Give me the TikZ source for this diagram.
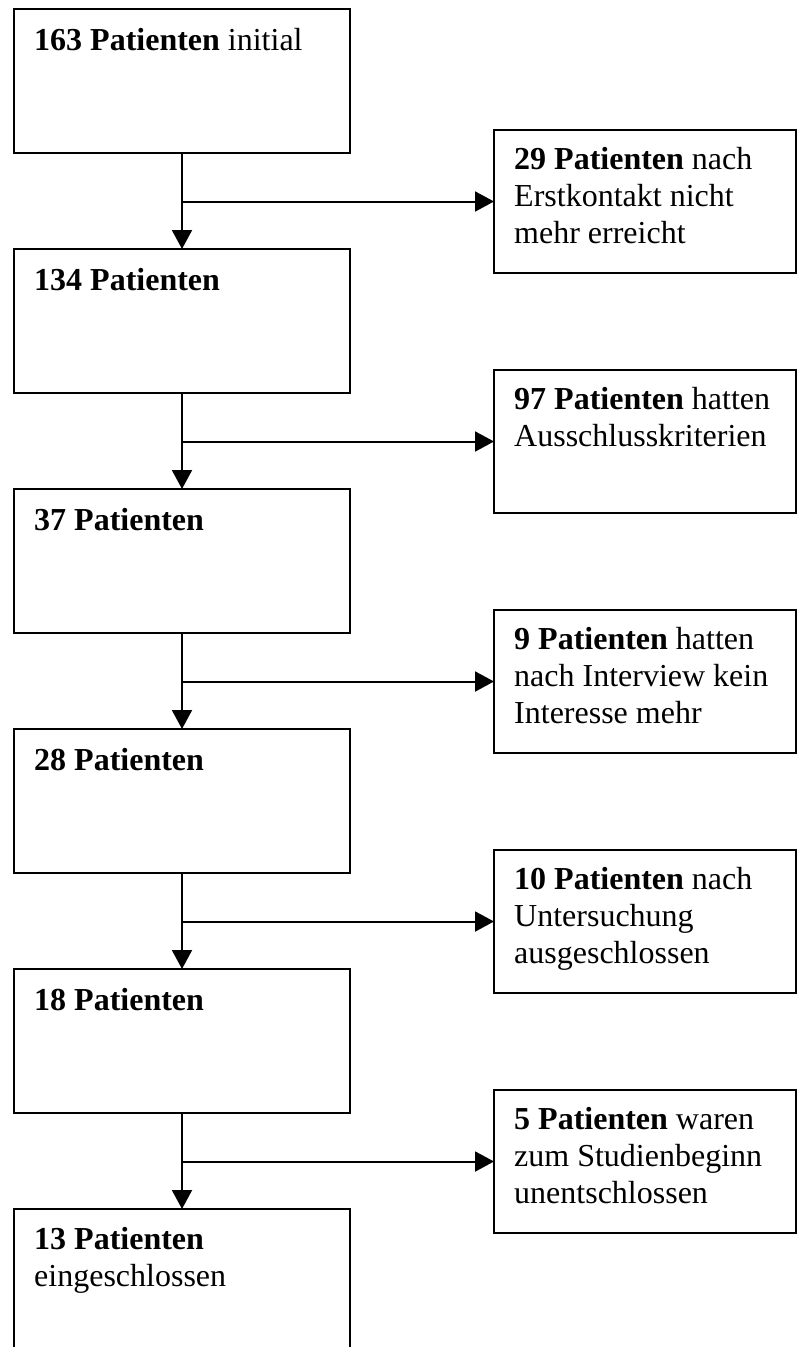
\documentclass[tikz,border=0pt]{standalone}
\usepackage{fontspec}
\setmainfont{Liberation Serif}
\usetikzlibrary{arrows.meta,calc}
\begin{document}
\begin{tikzpicture}[x=1pt,y=-1pt,
  lbox/.style={draw,line width=2pt,minimum width=336pt,minimum height=144pt,inner sep=0pt,outer sep=0pt,anchor=north west},
  rbox/.style={draw,line width=2pt,minimum width=302pt,minimum height=143pt,inner sep=0pt,outer sep=0pt,anchor=north west},
  txt/.style={anchor=north west,inner sep=0pt,align=left,font=\fontsize{32}{37}\selectfont},
  conn/.style={line width=2pt},
  arr/.style={conn,-{Triangle[length=19pt,width=20pt]}}]
\useasboundingbox (0,0) rectangle (797,1347);
\clip (0,0) rectangle (797,1347);
% left column
\node[lbox] (l1) at (14,9) {};
\node[lbox] (l2) at (14,249) {};
\node[lbox] (l3) at (14,489) {};
\node[lbox] (l4) at (14,729) {};
\node[lbox] (l5) at (14,969) {};
\node[lbox] (l6) at (14,1209) {};
\node[txt] (t1) at ($(l1.north west)+(20,15)$) {\strut\textbf{163 Patienten} initial};
\node[txt] (t2) at ($(l2.north west)+(20,15)$) {\strut\textbf{134 Patienten}};
\node[txt] (t3) at ($(l3.north west)+(20,15)$) {\strut\textbf{37 Patienten}};
\node[txt] (t4) at ($(l4.north west)+(20,15)$) {\strut\textbf{28 Patienten}};
\node[txt] (t5) at ($(l5.north west)+(20,15)$) {\strut\textbf{18 Patienten}};
\node[txt] (t6) at ($(l6.north west)+(20,14)$) {\strut\textbf{13 Patienten}\\eingeschlossen};
% right column
\node[rbox] (r1) at (494,130) {};
\node[rbox] (r2) at (494,370) {};
\node[rbox] (r3) at (494,610) {};
\node[rbox] (r4) at (494,850) {};
\node[rbox] (r5) at (494,1090) {};
\node[txt] (s1) at ($(r1.north west)+(20,13)$) {\strut\textbf{29 Patienten} nach\\Erstkontakt nicht\\mehr erreicht};
\node[txt] (s2) at ($(r2.north west)+(20,13)$) {\strut\textbf{97 Patienten} hatten\\Ausschlusskriterien};
\node[txt] (s3) at ($(r3.north west)+(20,13)$) {\strut\textbf{9 Patienten} hatten\\nach Interview kein\\Interesse mehr};
\node[txt] (s4) at ($(r4.north west)+(20,13)$) {\strut\textbf{10 Patienten} nach\\Untersuchung\\ausgeschlossen};
\node[txt] (s5) at ($(r5.north west)+(20,13)$) {\strut\textbf{5 Patienten} waren\\zum Studienbeginn\\unentschlossen};
% connectors
\foreach \a/\b/\r in {l1/l2/r1,l2/l3/r2,l3/l4/r3,l4/l5/r4,l5/l6/r5}{
  \draw[arr] (\a.south) -- (\b.north);
  \draw[arr] (\a.south |- \r.west) -- (\r.west);
}
\end{tikzpicture}
\end{document}
